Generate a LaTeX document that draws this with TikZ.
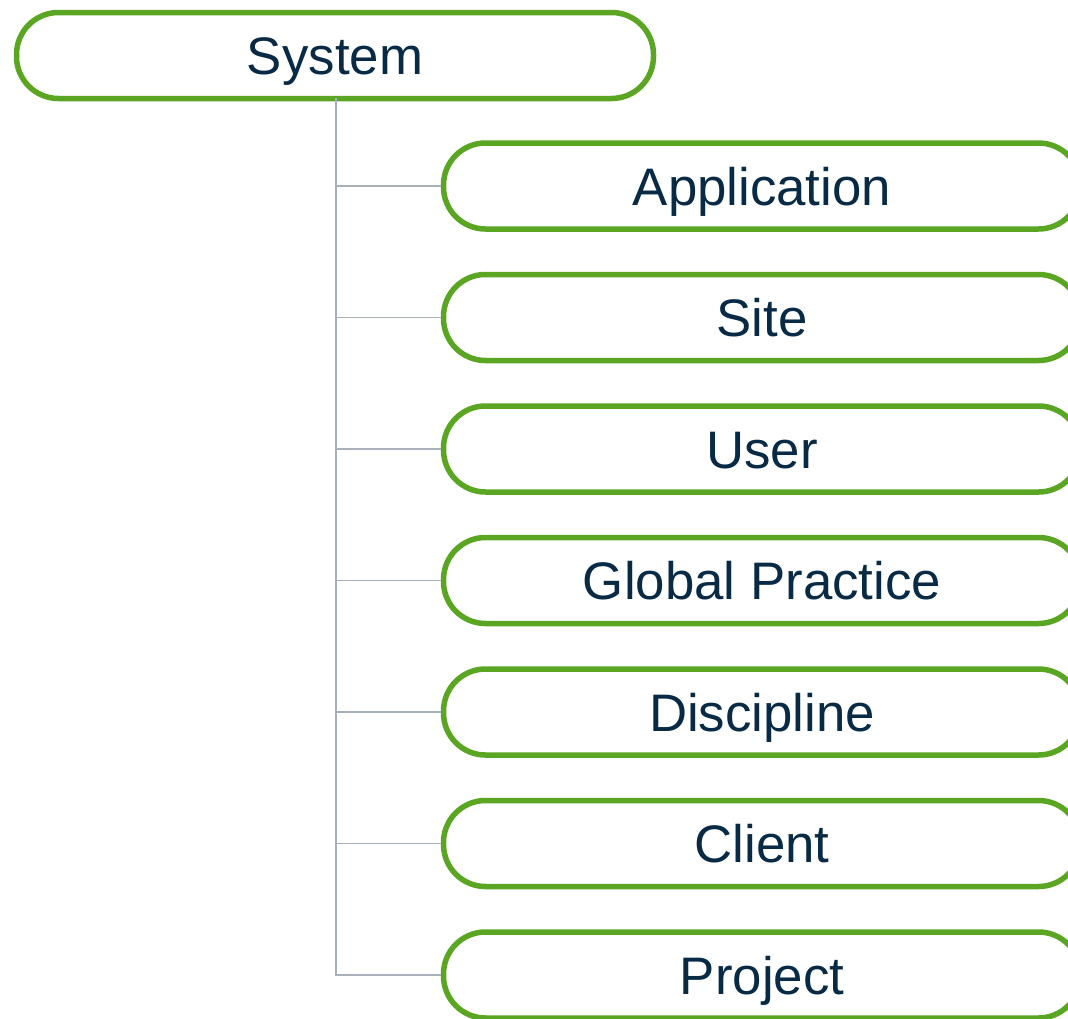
\documentclass[tikz,border=0pt]{standalone}
\usepackage{fontspec}
\setmainfont{Liberation Sans}
\definecolor{bgreen}{RGB}{90,166,34}
\definecolor{navy}{RGB}{8,42,68}
\definecolor{lgray}{RGB}{168,176,186}
\tikzset{
  pill/.style={draw=bgreen, line width=5.5pt, rounded corners=42pt, fill=white,
    minimum width=637pt, minimum height=86pt, inner sep=0pt,
    text=navy, font=\fontsize{52.8}{60}\selectfont, text height=38pt, text depth=0pt},
  conn/.style={draw=lgray, line width=1.8pt}
}
\begin{document}
\begin{tikzpicture}[x=1pt,y=-1pt]
\clip (0,0) rectangle (1068,1018);
\fill[white] (0,0) rectangle (1068,1018);
\node[pill] (sys) at (335,55.5) {System};
\coordinate (trunk) at (336,98);
\foreach \n/\t/\y in {app/Application/186, site/Site/317.5, user/User/449, gp/Global Practice/580.5, disc/Discipline/712, cli/Client/843.5, proj/Project/975}{
  \node[pill] (\n) at (762,\y) {\t};
}
\draw[conn] (trunk) -- (trunk |- proj.west) -- (proj.west);
\foreach \n in {app,site,user,gp,disc,cli}{
  \draw[conn] (trunk |- \n.west) -- (\n.west);
}
\end{tikzpicture}
\end{document}
